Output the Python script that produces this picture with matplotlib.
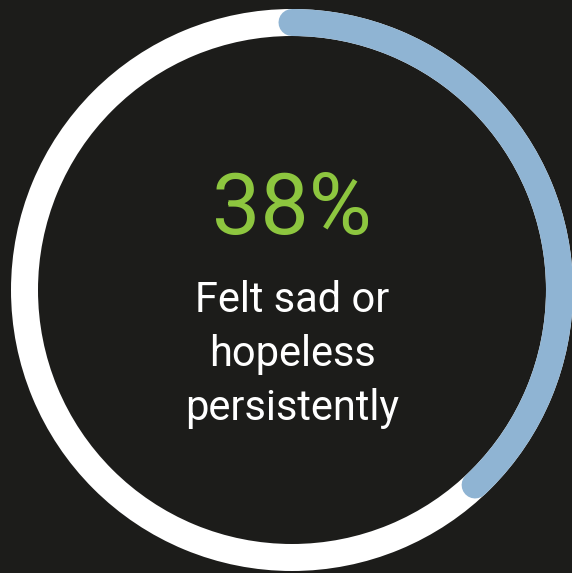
import numpy as np
import matplotlib.pyplot as plt
from matplotlib.patches import Wedge

# share of students
pct_value = 38
label_main = f"{pct_value}%"
label_sub = ["Felt sad or", "hopeless", "persistently"]

bg = "#1c1c1a"
ring_col = "#ffffff"
arc_col = "#8fb4d3"
green = "#8dc63f"

fig = plt.figure(figsize=(5.72, 5.73), dpi=100, facecolor=bg)
ax = fig.add_axes([0, 0, 1, 1])
ax.set_facecolor(bg)
ax.set_xlim(0, 572)
ax.set_ylim(573, 0)
ax.set_aspect("equal")
ax.axis("off")

cx, cy = 292, 290
r_out, band = 281, 27

# full white ring
ax.add_patch(Wedge((cx, cy), r_out, 0, 360, width=band, facecolor=ring_col, edgecolor="none"))

# progress arc, clockwise from 12 o'clock, round ends
r_mid = r_out - band / 2
sweep = pct_value / 100 * 2 * np.pi
theta = np.pi / 2 - np.linspace(0, sweep, 300)
ax.plot(cx + r_mid * np.cos(theta), cy - r_mid * np.sin(theta),
        color=arc_col, lw=band * 72 / 100, solid_capstyle="round")

fonts = ["Roboto", "DejaVu Sans"]
ax.text(cx, 234, label_main, color=green, fontsize=62,
        ha="center", va="baseline", family=fonts)
for i, line in enumerate(label_sub):
    ax.text(cx, 312 + i * 54, line, color="white", fontsize=30,
            ha="center", va="baseline", family=fonts)

fig.savefig("out.png", dpi=100, facecolor=bg)
